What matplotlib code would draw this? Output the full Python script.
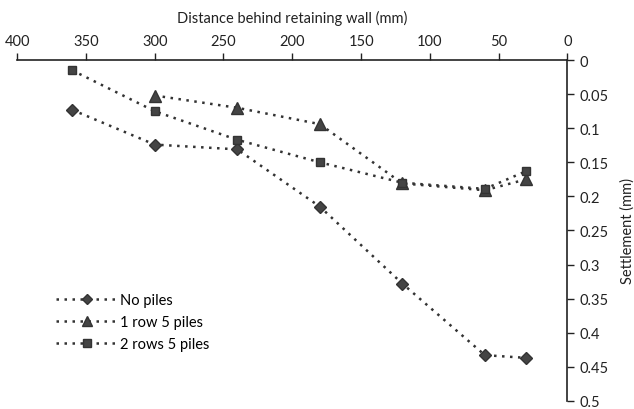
import matplotlib.pyplot as plt

distance = [360, 300, 240, 180, 120, 60, 30]
no_piles = [0.073, 0.124, 0.131, 0.215, 0.328, 0.433, 0.437]
distance_1row = [300, 240, 180, 120, 60, 30]
one_row = [0.052, 0.070, 0.094, 0.181, 0.191, 0.175]
two_rows = [0.015, 0.075, 0.117, 0.150, 0.180, 0.189, 0.163]

plt.rcParams["font.family"] = ["Lato", "DejaVu Sans"]

fig = plt.figure(figsize=(6.34, 4.10), dpi=100)
ax = fig.add_axes([0.027, 0.02, 0.868, 0.831])

line_kw = dict(color="#333333", linestyle=(0, (1, 2.2)), linewidth=1.8,
               markeredgecolor="#333333", markerfacecolor="#444444")
ax.plot(distance, no_piles, marker="D", markersize=6.5, label="No piles", **line_kw)
ax.plot(distance_1row, one_row, marker="^", markersize=8, label="1 row 5 piles", **line_kw)
ax.plot(distance, two_rows, marker="s", markersize=6, label="2 rows 5 piles", **line_kw)

ax.set_xlim(400, 0)
ax.set_ylim(0.5, 0)
ax.set_xticks(range(400, -1, -50))
ax.set_yticks([0, 0.05, 0.1, 0.15, 0.2, 0.25, 0.3, 0.35, 0.4, 0.45, 0.5])
ax.set_yticklabels(["0", "0.05", "0.1", "0.15", "0.2", "0.25", "0.3", "0.35", "0.4", "0.45", "0.5"])

ax.xaxis.tick_top()
ax.xaxis.set_label_position("top")
ax.yaxis.tick_right()
ax.yaxis.set_label_position("right")
ax.spines["left"].set_visible(False)
ax.spines["bottom"].set_visible(False)
for s in ("top", "right"):
    ax.spines[s].set_color("#222222")
    ax.spines[s].set_linewidth(1.2)
ax.tick_params(direction="out", length=5, width=1, colors="#222222", labelsize=10.5, pad=4)

ax.set_xlabel("Distance behind retaining wall (mm)", fontsize=10.5, labelpad=8, color="#222222")
ax.set_ylabel("Settlement (mm)", fontsize=10.5, labelpad=8, color="#222222")

leg = ax.legend(loc="lower left", bbox_to_anchor=(0.06, 0.13), frameon=False, fontsize=10.5,
                handlelength=4.3, handletextpad=0.1, labelspacing=0.55, borderaxespad=0,
                markerscale=0.85)

fig.savefig("out.png", dpi=100)
